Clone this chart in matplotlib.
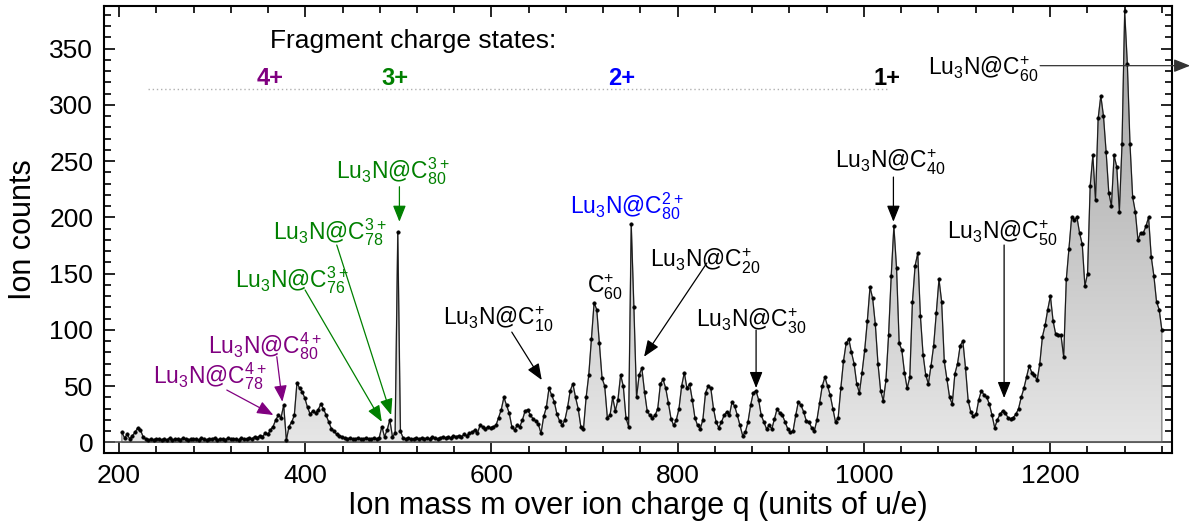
import numpy as np
import matplotlib
matplotlib.use("Agg")
import matplotlib.pyplot as plt
from matplotlib.ticker import MultipleLocator
from matplotlib.patches import Polygon
from matplotlib.colors import LinearSegmentedColormap

plt.rcParams['font.family'] = ['Liberation Sans', 'DejaVu Sans']
plt.rcParams['mathtext.fontset'] = 'custom'
plt.rcParams['mathtext.rm'] = 'Liberation Sans'
plt.rcParams['mathtext.it'] = 'Liberation Sans:italic'
plt.rcParams['mathtext.bf'] = 'Liberation Sans:bold'
plt.rcParams['mathtext.default'] = 'regular'

# ---- spectrum: mass-over-charge bins and ion counts ----
mass = np.linspace(203, 1320, 393)
counts = np.array([
    9, 4, 7, 3, 6, 9, 13, 11, 5, 3, 2, 3, 2, 3,
    3, 2, 3, 2, 4, 2, 3, 3, 2, 4, 3, 2, 3, 3,
    3, 2, 4, 3, 2, 3, 3, 4, 2, 3, 3, 2, 4, 3,
    3, 3, 2, 4, 3, 3, 4, 3, 5, 4, 6, 5, 8, 7,
    11, 14, 20, 24, 22, 33, 2, 14, 18, 24, 53, 48, 45, 39,
    31, 25, 28, 26, 29, 34, 30, 24, 18, 12, 10, 7, 6, 5,
    4, 3, 4, 3, 3, 4, 3, 3, 4, 3, 3, 4, 3, 4,
    14, 5, 11, 20, 5, 8, 187, 10, 4, 3, 4, 3, 3, 4,
    3, 4, 3, 4, 3, 5, 4, 3, 4, 5, 4, 5, 4, 6,
    5, 6, 5, 7, 6, 8, 9, 11, 8, 15, 14, 12, 14, 13,
    14, 15, 22, 29, 40, 33, 26, 14, 11, 15, 14, 20, 28, 29,
    24, 21, 19, 16, 8, 23, 31, 48, 42, 36, 25, 19, 15, 20,
    31, 46, 52, 40, 30, 14, 12, 40, 60, 92, 124, 118, 88, 57,
    50, 22, 24, 40, 28, 38, 60, 50, 22, 14, 194, 120, 40, 60,
    66, 45, 28, 24, 22, 24, 30, 52, 56, 48, 35, 21, 15, 20,
    30, 50, 62, 48, 52, 38, 22, 15, 12, 20, 44, 50, 48, 30,
    18, 13, 18, 24, 27, 24, 36, 32, 24, 15, 6, 9, 18, 33,
    44, 46, 38, 24, 18, 12, 15, 12, 21, 30, 26, 24, 18, 12,
    9, 10, 24, 36, 33, 27, 19, 18, 13, 10, 20, 35, 50, 58,
    50, 42, 30, 18, 22, 48, 72, 88, 92, 80, 70, 52, 44, 62,
    82, 108, 138, 128, 105, 70, 46, 37, 55, 95, 148, 192, 155, 88,
    82, 62, 48, 58, 125, 157, 168, 112, 78, 60, 52, 68, 86, 115,
    145, 125, 72, 56, 40, 34, 61, 70, 86, 90, 66, 37, 27, 23,
    25, 38, 46, 42, 40, 34, 24, 13, 20, 25, 28, 26, 22, 21,
    22, 25, 30, 40, 48, 58, 68, 62, 60, 55, 70, 94, 104, 118,
    130, 108, 96, 95, 95, 76, 145, 172, 200, 198, 200, 186, 176, 139,
    150, 228, 255, 215, 288, 308, 290, 258, 222, 210, 255, 245, 205, 265,
    383, 336, 265, 218, 205, 180, 186, 186, 192, 200, 165, 148, 125, 118,
    100,
], dtype=float)

# ---- axis settings ----
x_range = (184.2, 1330.7)
y_range = (-9.2, 388.1)
x_major, x_minor = 200, 40
y_major, y_minor = 50, 10

# ---- fragment charge-state markers ----
charge_labels = ['4+', '3+', '2+', '1+']
charge_pos = [362, 496, 740, 1024.6]
charge_colors = ['#800080', '#008000', '#0000ff', '#000000']

PURPLE, GREEN, BLUE, BLACK = '#800080', '#008000', '#0000ff', '#000000'

fig = plt.figure(figsize=(11.9, 5.28), dpi=100)
ax = fig.add_axes([0.0877, 0.1426, 0.8970, 0.8466])

# gradient fill under the spectrum
grad = np.linspace(0, 1, 256).reshape(-1, 1)
cmap = LinearSegmentedColormap.from_list('fillgrad', ['#e6e6e6', '#a0a0a0'])
im = ax.imshow(grad, extent=[mass[0], mass[-1], 0, 390], origin='lower',
               aspect='auto', cmap=cmap, zorder=1, interpolation='bilinear')
poly = Polygon(np.column_stack([np.r_[mass[0], mass, mass[-1]],
                                np.r_[0, counts, 0]]),
               closed=True, facecolor='none', edgecolor='#8a8a8a', lw=1.0,
               zorder=2, transform=ax.transData)
ax.add_patch(poly)
im.set_clip_path(poly)

ax.axhline(0, color='#555555', lw=1.2, zorder=2)
ax.plot(mass, counts, '-', color='#1a1a1a', lw=0.8, marker='o', ms=2.6,
        mfc='black', mec='black', mew=0.3, zorder=3)

ax.set_xlim(*x_range)
ax.set_ylim(*y_range)
ax.xaxis.set_major_locator(MultipleLocator(x_major))
ax.xaxis.set_minor_locator(MultipleLocator(x_minor))
ax.yaxis.set_major_locator(MultipleLocator(y_major))
ax.yaxis.set_minor_locator(MultipleLocator(y_minor))
ax.set_xticks([200, 400, 600, 800, 1000, 1200])
ax.set_yticks(np.arange(0, 351, 50))
ax.tick_params(which='both', direction='in', top=True, right=True,
               labelsize=19, width=1.2, pad=8)
ax.tick_params(which='major', length=8)
ax.tick_params(which='minor', length=5)
for s in ax.spines.values():
    s.set_linewidth(1.5)

ax.set_xlabel('Ion mass m over ion charge q (units of u/e)', fontsize=22, labelpad=2)
ax.set_ylabel('Ion counts', fontsize=22, labelpad=8)

# charge-state row
ax.text(362, 357, 'Fragment charge states:', fontsize=19, ha='left', va='center')
ax.plot([231, 1026], [314, 314], ls=(0, (1, 2)), color='#b0b0b0', lw=1.0, zorder=2)
for lab, xp, col in zip(charge_labels, charge_pos, charge_colors):
    ax.text(xp, 323, lab, fontsize=17, fontweight='bold', color=col,
            ha='center', va='center')

LBL = 16.5


def label(x, y, txt, color, tip=None, start=None):
    ax.text(x, y, txt, fontsize=LBL, color=color, ha='left', va='baseline', zorder=5)
    if tip is not None:
        ax.annotate('', xy=tip, xytext=start,
                    arrowprops=dict(arrowstyle='-|>,head_length=0.55,head_width=0.22',
                                    color=color, lw=0.9, mutation_scale=18,
                                    shrinkA=0, shrinkB=0), zorder=5)


label(236.5, 52.7, r'Lu$_3$N@C$_{78}^{4+}$', PURPLE, (365.7, 24.3), (315.7, 46.5))
label(295.6, 79.4, r'Lu$_3$N@C$_{80}^{4+}$', PURPLE, (375.4, 36.1), (369.4, 76.1))
label(324.6, 138, r'Lu$_3$N@C$_{76}^{3+}$', GREEN, (482.2, 18.3), (399.8, 135.4))
label(365.1, 180, r'Lu$_3$N@C$_{78}^{3+}$', GREEN, (492.2, 24.3), (433.8, 175.4))
label(433.1, 234.9, r'Lu$_3$N@C$_{80}^{3+}$', GREEN, (501.1, 196.1), (501.1, 227.2))
label(548, 104.3, r'Lu$_3$N@C$_{10}^{+}$', BLACK, (654, 55.4), (621.8, 98))
label(702.7, 132.7, r'C$_{60}^{+}$', BLACK)
label(684.4, 203.8, r'Lu$_3$N@C$_{80}^{2+}$', BLUE)
label(770.4, 155.8, r'Lu$_3$N@C$_{20}^{+}$', BLACK, (763.9, 76.1), (831.3, 159.4))
label(819.8, 102.5, r'Lu$_3$N@C$_{30}^{+}$', BLACK, (884.2, 48.3), (884.2, 99.8))
label(969, 243.8, r'Lu$_3$N@C$_{40}^{+}$', BLACK, (1031.7, 196.1), (1031.7, 235.8))
label(1089.4, 180, r'Lu$_3$N@C$_{50}^{+}$', BLACK, (1150.6, 39.4), (1150.6, 175.4))
label(1069, 326.5, r'Lu$_3$N@C$_{60}^{+}$', BLACK)
ax.annotate('', xy=(1350.4, 334.8), xytext=(1189.3, 334.8),
            arrowprops=dict(arrowstyle='-|>,head_length=0.55,head_width=0.22',
                            color='#333333', lw=0.9, mutation_scale=18,
                            shrinkA=0, shrinkB=0),
            annotation_clip=False, zorder=5)

fig.savefig('out.png', dpi=100)
